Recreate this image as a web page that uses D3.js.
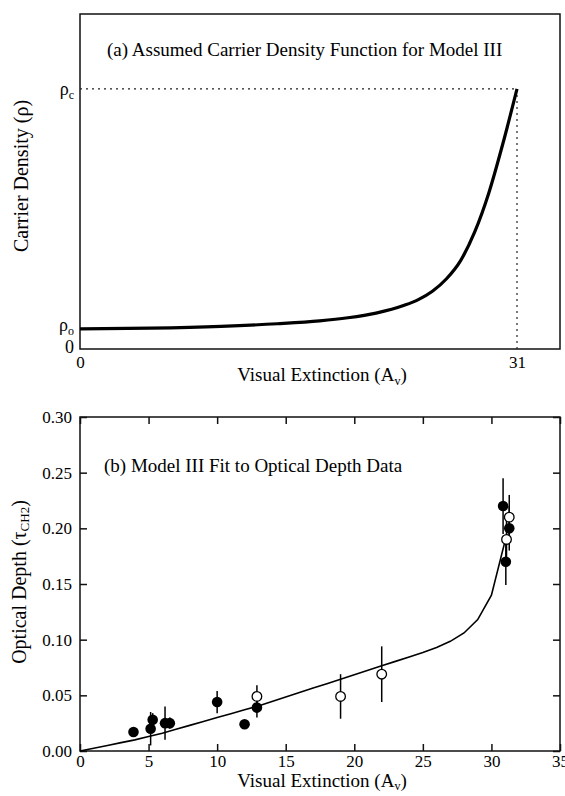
<!DOCTYPE html>
<html><head><meta charset="utf-8">
<script src="https://cdn.jsdelivr.net/npm/d3@7"></script>
<style>
body{margin:0;background:#fff;}
svg text{font-family:"Liberation Serif","Times New Roman",serif;fill:#000;}
</style></head>
<body><svg id="c" width="565" height="796"></svg>
<script>
// Panel (a): assumed carrier density (relative to rho_c)
const rhoAv = [0,5,10,14,17,19,21,23,24,25,26,27,28,29,30,31];
const rhoVal = [0.077,0.080,0.087,0.097,0.108,0.12,0.138,0.168,0.19,0.222,0.27,0.34,0.45,0.6,0.79,1.0];
const rho0 = 0.077, rhoC = 1.0, avC = 31;

// Panel (b): model curve
const modelAv = [0,1,2,3,4,5,6,7,8,9,10,11,12,13,14,15,16,17,18,19,20,21,22,23,24,25,26,27,28,29,30,31];
const modelTau = [0,0.0025,0.005,0.0075,0.010,0.013,0.016,0.0195,0.023,0.0265,0.030,0.0335,0.037,0.0405,0.0445,0.0485,0.0525,0.0565,0.0605,0.0645,0.0685,0.0725,0.0765,0.0805,0.0845,0.0885,0.093,0.0985,0.106,0.118,0.140,0.189];

// Panel (b): data points
const filledAv  = [3.9,5.15,5.3,6.2,6.55,10.0,12.0,12.9,30.85,31.3,31.05];
const filledTau = [0.017,0.020,0.028,0.025,0.025,0.044,0.024,0.039,0.220,0.200,0.170];
const filledErr = [0.004,0.015,0.006,0.015,0.005,0.010,0,0.009,0.025,0.020,0.021];
const openAv  = [12.9,19.0,22.0,31.3,31.1];
const openTau = [0.049,0.049,0.069,0.210,0.190];
const openErr = [0.010,0.020,0.025,0.020,0.020];

const xTicksB = [0,5,10,15,20,25,30,35];
const yTicksB = [0,0.05,0.10,0.15,0.20,0.25,0.30];

const svg = d3.select("#c");

// ---------- Panel (a) ----------
const xA = d3.scaleLinear().domain([0,34.05]).range([80,560]);
const yA = d3.scaleLinear().domain([0,1.288]).range([349,14]);

svg.append("rect").attr("x",80).attr("y",14).attr("width",480).attr("height",335)
  .attr("fill","none").attr("stroke","#111").attr("stroke-width",1.5);

// dotted guides
svg.append("line").attr("x1",xA(0)).attr("x2",xA(avC)).attr("y1",yA(rhoC)).attr("y2",yA(rhoC))
  .attr("stroke","#222").attr("stroke-width",1.2).attr("stroke-dasharray","2,4");
svg.append("line").attr("x1",xA(avC)).attr("x2",xA(avC)).attr("y1",yA(rhoC)).attr("y2",yA(0))
  .attr("stroke","#222").attr("stroke-width",1.2).attr("stroke-dasharray","2,4");

svg.append("path").datum(rhoAv.map((a,i)=>[a,rhoVal[i]]))
  .attr("fill","none").attr("stroke","#000").attr("stroke-width",3.2)
  .attr("d",d3.line().x(d=>xA(d[0])).y(d=>yA(d[1])).curve(d3.curveMonotoneX));

// axes (a)
const axA_x = svg.append("g").attr("transform","translate(0,349)")
  .call(d3.axisBottom(xA).tickValues([0,avC]).tickSize(0).tickFormat(d3.format("d")));
axA_x.select(".domain").remove();
axA_x.selectAll("text").attr("font-size",17).attr("fill","#000").attr("dy","0.95em");

const axA_y = svg.append("g").attr("transform","translate(80,0)")
  .call(d3.axisLeft(yA).tickValues([0,rho0,rhoC]).tickSize(0).tickPadding(6).tickFormat(()=>""));
axA_y.select(".domain").remove();
axA_y.selectAll("text").attr("font-size",18).attr("fill","#000").each(function(d){
  const t = d3.select(this);
  if (d===0) { t.text("0").attr("dy","0.2em"); return; }
  t.append("tspan").text("ρ");
  t.append("tspan").attr("font-size",12).attr("dy",4).text(d===rho0?"o":"c");
  if (d===rho0) t.attr("dy","0.1em");
});

svg.append("text").attr("x",107).attr("y",56).attr("font-size",19)
  .text("(a) Assumed Carrier Density Function for Model III");
const xlA = svg.append("text").attr("x",322).attr("y",381).attr("text-anchor","middle").attr("font-size",19);
xlA.append("tspan").text("Visual Extinction (A");
xlA.append("tspan").attr("font-size",12).attr("dy",4).text("v");
xlA.append("tspan").attr("dy",-4).text(")");
svg.append("text").attr("transform","translate(28,176) rotate(-90)").attr("text-anchor","middle")
  .attr("font-size",20).text("Carrier Density (ρ)");

// ---------- Panel (b) ----------
const xB = d3.scaleLinear().domain([0,35]).range([80,560]);
const yB = d3.scaleLinear().domain([0,0.30]).range([751,417]);

svg.append("rect").attr("x",80).attr("y",417).attr("width",480).attr("height",334)
  .attr("fill","none").attr("stroke","#111").attr("stroke-width",1.5);

const gxb = svg.append("g").attr("transform","translate(0,751)")
  .call(d3.axisBottom(xB).tickValues(xTicksB).tickSize(-7).tickPadding(4).tickFormat(d3.format("d")));
const gxt = svg.append("g").attr("transform","translate(0,417)")
  .call(d3.axisTop(xB).tickValues(xTicksB).tickSize(-7).tickFormat(""));
const gyl = svg.append("g").attr("transform","translate(80,0)")
  .call(d3.axisLeft(yB).tickValues(yTicksB).tickSize(-7).tickPadding(8).tickFormat(d3.format(".2f")));
const gyr = svg.append("g").attr("transform","translate(560,0)")
  .call(d3.axisRight(yB).tickValues(yTicksB).tickSize(-7).tickFormat(""));
[gxb,gxt,gyl,gyr].forEach(g=>{
  g.select(".domain").remove();
  g.selectAll("line").attr("stroke","#111").attr("stroke-width",1.5);
  g.selectAll("text").attr("font-size",17).attr("fill","#000");
});

svg.append("path").datum(modelAv.map((a,i)=>[a,modelTau[i]]))
  .attr("fill","none").attr("stroke","#000").attr("stroke-width",1.6)
  .attr("d",d3.line().x(d=>xB(d[0])).y(d=>yB(d[1])));

const filled = filledAv.map((a,i)=>({a,t:filledTau[i],e:filledErr[i]}));
const open = openAv.map((a,i)=>({a,t:openTau[i],e:openErr[i]}));

svg.append("g").selectAll("line").data(filled.concat(open).filter(d=>d.e>0)).join("line")
  .attr("x1",d=>xB(d.a)).attr("x2",d=>xB(d.a))
  .attr("y1",d=>yB(d.t+d.e)).attr("y2",d=>yB(d.t-d.e))
  .attr("stroke","#000").attr("stroke-width",1.5);

svg.append("g").selectAll("circle").data(open).join("circle")
  .attr("cx",d=>xB(d.a)).attr("cy",d=>yB(d.t)).attr("r",4.8)
  .attr("fill","#fff").attr("stroke","#000").attr("stroke-width",1.3);
svg.append("g").selectAll("circle").data(filled).join("circle")
  .attr("cx",d=>xB(d.a)).attr("cy",d=>yB(d.t)).attr("r",5.3).attr("fill","#000");

svg.append("text").attr("x",104).attr("y",472).attr("font-size",19)
  .text("(b) Model III Fit to Optical Depth Data");
const xlB = svg.append("text").attr("x",322).attr("y",787).attr("text-anchor","middle").attr("font-size",19);
xlB.append("tspan").text("Visual Extinction (A");
xlB.append("tspan").attr("font-size",12).attr("dy",3).text("v");
xlB.append("tspan").attr("dy",-3).text(")");
const ylB = svg.append("text").attr("transform","translate(26,582) rotate(-90)").attr("text-anchor","middle").attr("font-size",20);
ylB.append("tspan").text("Optical Depth (τ");
ylB.append("tspan").attr("font-size",13).attr("dy",3).text("CH2");
ylB.append("tspan").attr("dy",-3).text(")");
</script></body></html>
